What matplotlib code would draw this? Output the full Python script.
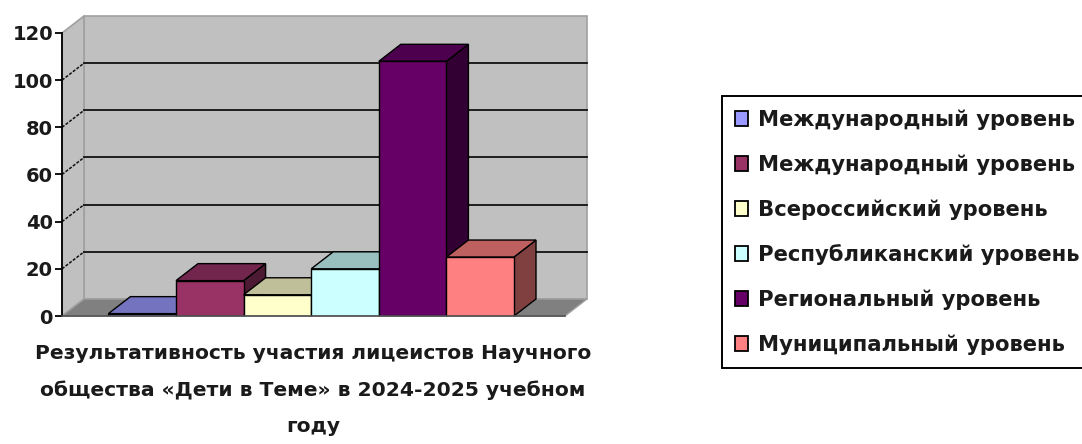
import matplotlib
matplotlib.use("Agg")
import matplotlib.pyplot as plt
from matplotlib.patches import Polygon, Patch
from matplotlib.colors import to_rgb

series = ["Международный уровень", "Международный уровень", "Всероссийский уровень",
          "Республиканский уровень", "Региональный уровень", "Муниципальный уровень"]
values = [1, 15, 9, 20, 108, 25]
colors = ["#9999FF", "#993366", "#FFFFCC", "#CCFFFF", "#660066", "#FF8080"]
yticks = [0, 20, 40, 60, 80, 100, 120]
xlabel = "Результативность участия лицеистов Научного\nобщества «Дети в Теме» в 2024-2025 учебном\nгоду"

FONT = ["DejaVu Sans"]
W, H = 1082, 444
fig = plt.figure(figsize=(W / 100, H / 100), dpi=100, facecolor="white")
L, R, T, B = 62, 565, 33, 316
ax = fig.add_axes([L / W, 1 - B / H, (R - L) / W, (B - T) / H])
ax.set_facecolor("none")
bw_px = 67.6
first_left_px = 108.4
lo = -0.5 - (first_left_px - L) / bw_px
ax.set_xlim(lo, lo + (R - L) / bw_px)
ax.set_ylim(0, 120)
x0, x1 = ax.get_xlim()
dx = 22 / bw_px
dy = 17 / ((B - T) / 120)


def poly(pts, fc, ec, z, lw=1.0):
    ax.add_patch(Polygon(pts, closed=True, facecolor=fc, edgecolor=ec, lw=lw, zorder=z, clip_on=False))


def shade(c, k):
    return tuple(v * k for v in to_rgb(c))


# walls and floor
poly([(x0 + dx, dy), (x1 + dx, dy), (x1 + dx, 120 + dy), (x0 + dx, 120 + dy)], "#C0C0C0", "#A0A0A0", 1, 1.2)
poly([(x0, 0), (x0 + dx, dy), (x0 + dx, 120 + dy), (x0, 120)], "#C0C0C0", "#A0A0A0", 1, 1.2)
poly([(x0, 0), (x1, 0), (x1 + dx, dy), (x0 + dx, dy)], "#808080", "#A0A0A0", 1, 1.0)

# gridlines on the walls
for t in yticks[1:-1]:
    ax.plot([x0 + dx, x1 + dx], [t + dy, t + dy], color="#111111", lw=1.3, zorder=2, clip_on=False)
    ax.plot([x0, x0 + dx], [t, t + dy], color="#111111", lw=1.1, ls=(0, (2, 1)), zorder=2, clip_on=False)

# bars
for i, (v, c) in enumerate(zip(values, colors)):
    z = 3 + i
    l, r = i - 0.5, i + 0.5
    poly([(r, 0), (r + dx, dy), (r + dx, v + dy), (r, v)], shade(c, 0.5), "black", z)
    poly([(l, v), (r, v), (r + dx, v + dy), (l + dx, v + dy)], shade(c, 0.75), "black", z)
    ax.bar(i, v, width=1.0, color=c, edgecolor="black", linewidth=1.0, zorder=z)

# axes
for s in ("top", "right"):
    ax.spines[s].set_visible(False)
ax.spines["left"].set_linewidth(1.3)
ax.spines["left"].set_zorder(12)
ax.spines["bottom"].set_color("#505050")
ax.spines["bottom"].set_linewidth(1.2)
ax.spines["bottom"].set_zorder(12)
ax.set_xticks([])
ax.set_yticks(yticks)
ax.tick_params(axis="y", length=5, width=1.3, pad=1.5, labelsize=14, labelcolor="#1a1a1a")
for lab in ax.get_yticklabels():
    lab.set_fontfamily(FONT)
    lab.set_fontweight("bold")

ax.set_xlabel(xlabel, family=FONT, fontweight="bold", fontsize=14.6, color="#1a1a1a",
              linespacing=2.15, labelpad=20, ha="center", x=(313 - L) / (R - L))

# legend, running off the right edge of the picture as in the reference
handles = [Patch(facecolor=c, edgecolor="black", linewidth=1.3) for c in colors]
leg = fig.legend(handles, series, loc="upper left",
                 bbox_to_anchor=(722 / W, 1 - 368 / H, 400 / W, 272 / H), bbox_transform=fig.transFigure,
                 mode="expand", borderaxespad=0, fontsize=15.2, labelspacing=1.16, handlelength=0.63,
                 handleheight=0.7, handletextpad=0.45, borderpad=0.62, fancybox=False, framealpha=1,
                 edgecolor="black")
leg.get_frame().set_linewidth(1.4)
for t in leg.get_texts():
    t.set_fontfamily(FONT)
    t.set_fontweight("bold")
    t.set_color("#1a1a1a")

fig.savefig("out.png", dpi=100)
